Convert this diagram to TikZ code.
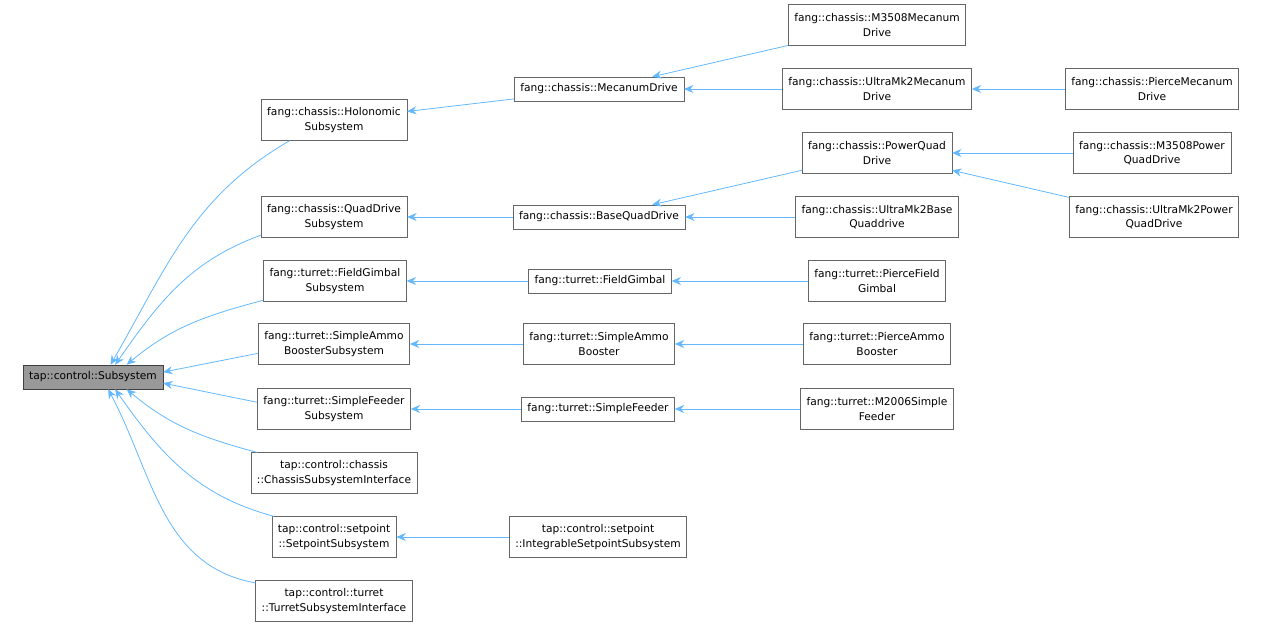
\documentclass[tikz,border=0pt]{standalone}
\usepackage{fontspec}
\setmainfont{DejaVu Sans}
\usetikzlibrary{arrows.meta}
\definecolor{edgeblue}{HTML}{63B8FF}
\definecolor{boxline}{HTML}{666666}
\begin{document}
\begin{tikzpicture}[x=0.75pt,y=-0.75pt,
		% Style definitions for the class boxes
		cls/.style={draw=boxline, fill=white, font=\fontsize{8}{11}\selectfont, align=center, inner xsep=4.5pt, inner ysep=3pt, minimum height=18pt},
		cls2/.style={cls, minimum height=30.5pt},
		base/.style={cls, fill=black!40, draw=black!75},
		inh/.style={{Stealth[length=7pt,width=6pt]}-, edgeblue, semithick},
		]
		\useasboundingbox (0,0) rectangle (1269,627);

		% === Root ===
		\node[base] (sub) at (93,377) {tap::control::Subsystem};

		% === Column 1 ===
		\node[cls2] (hol) at (334,120) {fang::chassis::Holonomic\\Subsystem};
		\node[cls2] (quad) at (334,217) {fang::chassis::QuadDrive\\Subsystem};
		\node[cls2] (fg) at (335,281) {fang::turret::FieldGimbal\\Subsystem};
		\node[cls2] (ammo) at (334,344) {fang::turret::SimpleAmmo\\BoosterSubsystem};
		\node[cls2] (feeder) at (334,409) {fang::turret::SimpleFeeder\\Subsystem};
		\node[cls2] (chassisif) at (334,473) {tap::control::chassis\\::ChassisSubsystemInterface};
		\node[cls2] (setpoint) at (334,537) {tap::control::setpoint\\::SetpointSubsystem};
		\node[cls2] (turretif) at (334,601) {tap::control::turret\\::TurretSubsystemInterface};

		% === Column 2 ===
		\node[cls] (mec) at (599,89) {fang::chassis::MecanumDrive};
		\node[cls] (bqd) at (599,217) {fang::chassis::BaseQuadDrive};
		\node[cls] (fgim) at (600,281) {fang::turret::FieldGimbal};
		\node[cls2] (sab) at (599,344) {fang::turret::SimpleAmmo\\Booster};
		\node[cls] (sf) at (598,409) {fang::turret::SimpleFeeder};
		\node[cls2] (isp) at (598,537) {tap::control::setpoint\\::IntegrableSetpointSubsystem};

		% === Column 3 ===
		\node[cls2] (m3508) at (877,25) {fang::chassis::M3508Mecanum\\Drive};
		\node[cls2] (umk2) at (877,89) {fang::chassis::UltraMk2Mecanum\\Drive};
		\node[cls2] (pqd) at (877,153) {fang::chassis::PowerQuad\\Drive};
		\node[cls2] (umk2base) at (877,217) {fang::chassis::UltraMk2Base\\Quaddrive};
		\node[cls2] (pfg) at (877,281) {fang::turret::PierceField\\Gimbal};
		\node[cls2] (pab) at (877,344) {fang::turret::PierceAmmo\\Booster};
		\node[cls2] (m2006) at (877,409) {fang::turret::M2006Simple\\Feeder};

		% === Column 4 ===
		\node[cls2] (piercemec) at (1152,89) {fang::chassis::PierceMecanum\\Drive};
		\node[cls2] (m3508p) at (1152,153) {fang::chassis::M3508Power\\QuadDrive};
		\node[cls2] (umk2p) at (1154,217) {fang::chassis::UltraMk2Power\\QuadDrive};

		% === Arrows into the root ===
		\draw[inh] (sub.35) to[out=60, in=-150] (hol.205);
		\draw[inh] (sub.29) to[out=55, in=-160] (quad.194);
		\draw[inh] (sub.20) to[out=40, in=-165] (fg.195);
		\draw[inh] (sub.4) -- (ammo.187);
		\draw[inh] (sub.-5) -- (feeder.175);
		\draw[inh] (sub.-20) to[out=-40, in=165] (chassisif.165);
		\draw[inh] (sub.-29) to[out=-55, in=165] (setpoint.161);
		\draw[inh] (sub.-39) to[out=-62, in=170] (turretif.167);

		% === Other arrows ===
		\draw[inh] (hol) -- (mec);
		\draw[inh] (quad) -- (bqd);
		\draw[inh] (fg) -- (fgim);
		\draw[inh] (ammo) -- (sab);
		\draw[inh] (feeder) -- (sf);
		\draw[inh] (setpoint) -- (isp);
		\draw[inh] (mec) -- (m3508);
		\draw[inh] (mec) -- (umk2);
		\draw[inh] (umk2) -- (piercemec);
		\draw[inh] (bqd) -- (pqd);
		\draw[inh] (bqd) -- (umk2base);
		\draw[inh] (pqd) -- (m3508p);
		\draw[inh] (pqd) -- (umk2p);
		\draw[inh] (fgim) -- (pfg);
		\draw[inh] (sab) -- (pab);
		\draw[inh] (sf) -- (m2006);

	\end{tikzpicture}
\end{document}
